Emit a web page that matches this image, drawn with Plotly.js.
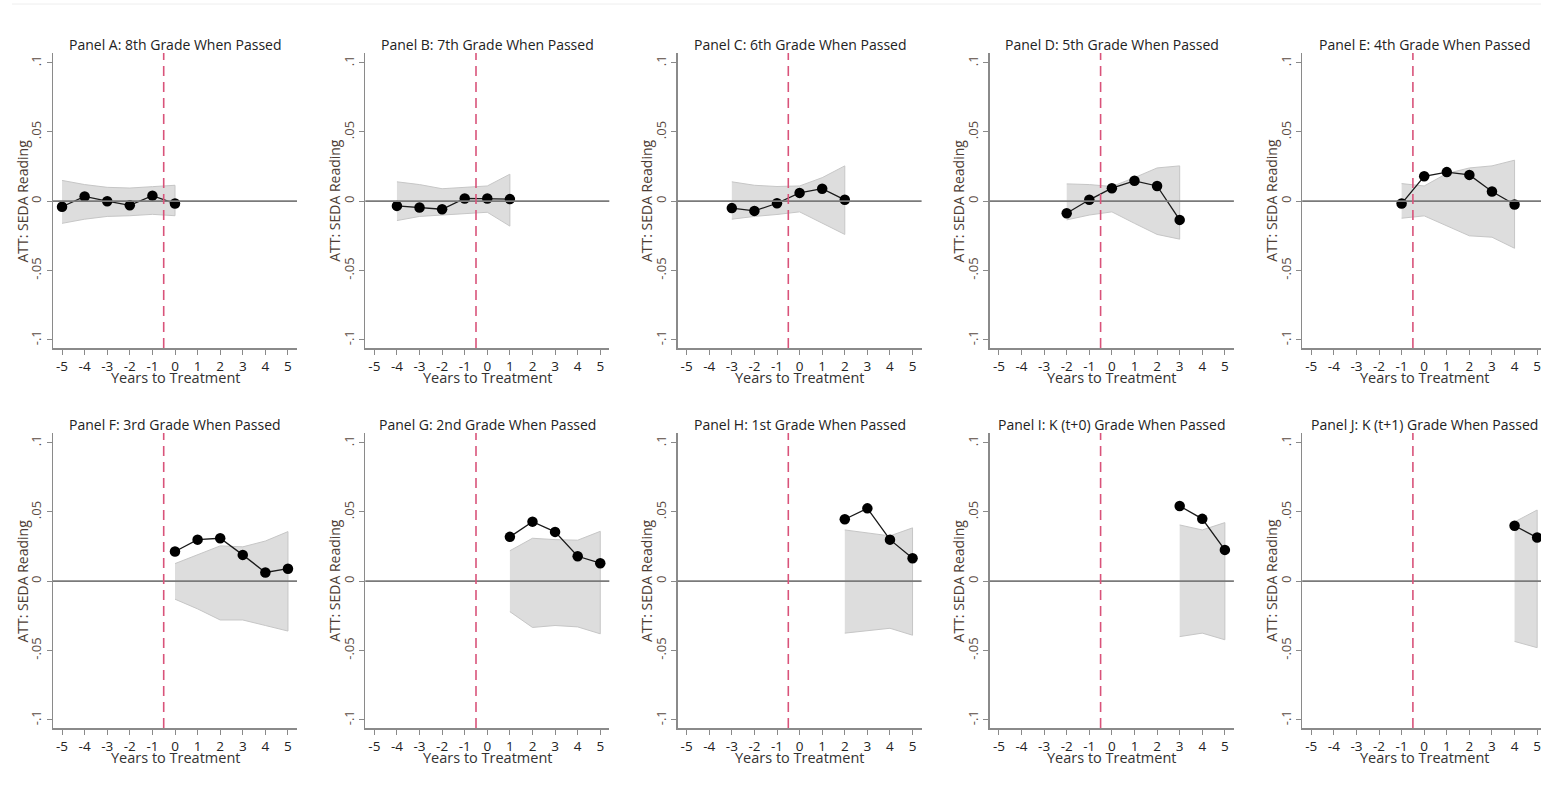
<!DOCTYPE html>
<html>
<head>
<meta charset="utf-8">
<script src="https://cdn.plot.ly/plotly-3.0.1.min.js"></script>
<style>
  html, body { margin: 0; padding: 0; overflow: hidden; background: #fff; }
  #grid { width: 1560px; height: 796px; }
</style>
</head>
<body>
<div id="grid"></div>
<script>
// panel titles
var panelTitles = [
  "Panel A: 8th Grade When Passed",
  "Panel B: 7th Grade When Passed",
  "Panel C: 6th Grade When Passed",
  "Panel D: 5th Grade When Passed",
  "Panel E: 4th Grade When Passed",
  "Panel F: 3rd Grade When Passed",
  "Panel G: 2nd Grade When Passed",
  "Panel H: 1st Grade When Passed",
  "Panel I: K (t+0) Grade When Passed",
  "Panel J: K (t+1) Grade When Passed"
];

var xTickVals = [-5, -4, -3, -2, -1, 0, 1, 2, 3, 4, 5];
var xTickText = ["-5", "-4", "-3", "-2", "-1", "0", "1", "2", "3", "4", "5"];
var yTickVals = [-0.1, -0.05, 0, 0.05, 0.1];
var yTickText = ["-.1", "-.05", "0", ".05", ".1"];
var treatLine = -0.5;

// years to treatment, point estimates, and CI bounds for each panel
var yearsA = [-5, -4, -3, -2, -1, 0];
var attA   = [-0.004, 0.0034, 0.0, -0.003, 0.004, -0.0017];
var hiA    = [0.015, 0.012, 0.010, 0.0095, 0.0105, 0.0115];
var loA    = [-0.016, -0.013, -0.011, -0.0105, -0.0095, -0.0105];

var yearsB = [-4, -3, -2, -1, 0, 1];
var attB   = [-0.0034, -0.0046, -0.0058, 0.002, 0.002, 0.0015];
var hiB    = [0.014, 0.012, 0.009, 0.010, 0.011, 0.0195];
var loB    = [-0.014, -0.011, -0.010, -0.009, -0.008, -0.018];

var yearsC = [-3, -2, -1, 0, 1, 2];
var attC   = [-0.005, -0.007, -0.0015, 0.006, 0.009, 0.001];
var hiC    = [0.014, 0.0115, 0.0106, 0.011, 0.017, 0.0255];
var loC    = [-0.013, -0.011, -0.0096, -0.0077, -0.016, -0.024];

var yearsD = [-2, -1, 0, 1, 2, 3];
var attD   = [-0.0087, 0.001, 0.0094, 0.0147, 0.011, -0.0135];
var hiD    = [0.0125, 0.012, 0.0106, 0.017, 0.024, 0.0255];
var loD    = [-0.0135, -0.010, -0.0077, -0.016, -0.024, -0.0274];

var yearsE = [-1, 0, 1, 2, 3, 4];
var attE   = [-0.0017, 0.018, 0.021, 0.019, 0.007, -0.0024];
var hiE    = [0.0127, 0.011, 0.020, 0.024, 0.0255, 0.0296];
var loE    = [-0.0123, -0.0106, -0.018, -0.025, -0.026, -0.034];

var yearsF = [0, 1, 2, 3, 4, 5];
var attF   = [0.0214, 0.030, 0.031, 0.019, 0.0063, 0.009];
var hiF    = [0.0127, 0.019, 0.0255, 0.0248, 0.029, 0.0358];
var loF    = [-0.013, -0.020, -0.028, -0.028, -0.032, -0.036];

var yearsG = [1, 2, 3, 4, 5];
var attG   = [0.032, 0.043, 0.0356, 0.018, 0.013];
var hiG    = [0.022, 0.031, 0.030, 0.0296, 0.036];
var loG    = [-0.022, -0.0334, -0.032, -0.033, -0.038];

var yearsH = [2, 3, 4, 5];
var attH   = [0.0447, 0.0526, 0.030, 0.0166];
var hiH    = [0.037, 0.0346, 0.0327, 0.0385];
var loH    = [-0.0375, -0.0356, -0.034, -0.039];

var yearsI = [3, 4, 5];
var attI   = [0.0543, 0.045, 0.0226];
var hiI    = [0.0406, 0.037, 0.0423];
var loI    = [-0.040, -0.0375, -0.0423];

var yearsJ = [4, 5];
var attJ   = [0.040, 0.0315];
var hiJ    = [0.0428, 0.0514];
var loJ    = [-0.0435, -0.048];

var panels = [
  [yearsA, attA, hiA, loA], [yearsB, attB, hiB, loB], [yearsC, attC, hiC, loC],
  [yearsD, attD, hiD, loD], [yearsE, attE, hiE, loE], [yearsF, attF, hiF, loF],
  [yearsG, attG, hiG, loG], [yearsH, attH, hiH, loH], [yearsI, attI, hiI, loI],
  [yearsJ, attJ, hiJ, loJ]
];

// pixel geometry of the grid (last column runs past the window edge, as in the source)
var W = 1560, H = 796;
var colLeft = 53, colStep = 312.3, plotW = 244;
var rowTops = [53, 433], plotH = 295;

var traces = [];
var shapes = [];
var annotations = [];
var layout = {
  width: W,
  height: H,
  margin: {l: 0, r: 0, t: 0, b: 0, pad: 0},
  paper_bgcolor: "#fff",
  plot_bgcolor: "#fff",
  showlegend: false,
  font: {family: "Open Sans, sans-serif", size: 13, color: "#333"}
};

for (var i = 0; i < panels.length; i++) {
  var p = panels[i];
  var n = i + 1;
  var xs = n == 1 ? "x" : "x" + n;
  var ys = n == 1 ? "y" : "y" + n;
  var col = i % 5, row = Math.floor(i / 5);
  var pLeft = colLeft + col * colStep;
  var pTop = rowTops[row];

  // confidence band as a closed polygon
  var bandX = p[0].concat(p[0].slice().reverse());
  var bandY = p[2].concat(p[3].slice().reverse());
  traces.push({
    x: bandX, y: bandY, xaxis: xs, yaxis: ys,
    type: "scatter", mode: "lines", fill: "toself",
    fillcolor: "#dddddd",
    line: {color: "#c6c6c6", width: 1},
    hoverinfo: "skip"
  });
  traces.push({
    x: p[0], y: p[1], xaxis: xs, yaxis: ys,
    type: "scatter", mode: "lines+markers",
    line: {color: "#1a1a1a", width: 1.3},
    marker: {color: "#000", size: 10.5}
  });

  layout["xaxis" + (n == 1 ? "" : n)] = {
    domain: [pLeft / W, (pLeft + plotW) / W],
    anchor: ys,
    range: [-5.4, 5.4],
    tickvals: xTickVals,
    ticktext: xTickText,
    ticks: "outside", ticklen: 5, tickcolor: "#8a8a8a", tickwidth: 1,
    showline: true, linecolor: "#8a8a8a", linewidth: 1.5,
    showgrid: false, zeroline: false,
    tickfont: {size: 13.5, color: "#222"},
    fixedrange: true
  };
  layout["yaxis" + (n == 1 ? "" : n)] = {
    domain: [1 - (pTop + plotH) / H, 1 - pTop / H],
    anchor: xs,
    range: [-0.106, 0.107],
    tickvals: yTickVals,
    ticktext: yTickText,
    tickangle: -90,
    ticks: "outside", ticklen: 5, tickcolor: "#8a8a8a", tickwidth: 1,
    showline: true, linecolor: "#8a8a8a", linewidth: 1.5,
    showgrid: false, zeroline: false,
    tickfont: {size: 13, color: "#5a4a42"},
    fixedrange: true
  };

  // zero line and treatment line
  shapes.push({
    type: "line", xref: xs + " domain", yref: ys,
    x0: 0, x1: 1, y0: 0, y1: 0,
    line: {color: "#7a7a7a", width: 1.8}
  });
  shapes.push({
    type: "line", xref: xs, yref: ys + " domain",
    x0: treatLine, x1: treatLine, y0: 0, y1: 1,
    line: {color: "#d9537a", width: 1.6, dash: "10px,6px"}
  });

  annotations.push({
    text: panelTitles[i], showarrow: false,
    xref: xs + " domain", yref: ys + " domain",
    x: 0.5, y: 1, yanchor: "middle", yshift: 9,
    font: {size: 14, color: "#222"}
  });
  annotations.push({
    text: "ATT: SEDA Reading", showarrow: false, textangle: -90,
    xref: xs + " domain", yref: ys + " domain",
    x: 0, y: 0.5, xanchor: "center", xshift: -31,
    font: {size: 14, color: "#4d3d35"}
  });
  annotations.push({
    text: "Years to Treatment", showarrow: false,
    xref: xs + " domain", yref: ys + " domain",
    x: 0.5, y: 0, yanchor: "middle", yshift: -29,
    font: {size: 14.5, color: "#333"}
  });
}

// faint rule along the top of the figure
shapes.push({
  type: "line", xref: "paper", yref: "paper",
  x0: 12 / W, x1: 1, y0: 1 - 4 / H, y1: 1 - 4 / H,
  line: {color: "#eeeeee", width: 1}
});

layout.shapes = shapes;
layout.annotations = annotations;

Plotly.newPlot("grid", traces, layout, {displayModeBar: false, staticPlot: true});
</script>
</body>
</html>
